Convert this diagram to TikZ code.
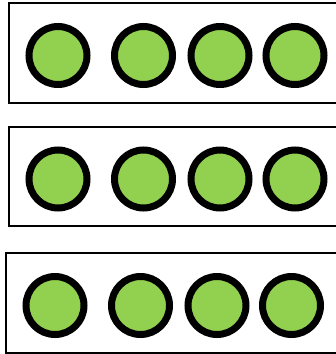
\documentclass[tikz,border=0pt]{standalone}
\definecolor{dotgreen}{HTML}{92D050}
\begin{document}
\begin{tikzpicture}[
    x=1pt, y=-1pt,
    tray/.style={draw=black, line width=2pt, fill=white},
    dot/.style={circle, draw=black, line width=7pt, fill=dotgreen,
                minimum size=58pt, inner sep=0pt}
]
    \useasboundingbox (0,0) rectangle (336,354);
    \clip (0,0) rectangle (336,354);

    % Reihen
    \draw[tray] (9,3) rectangle (350,103);
    \draw[tray] (9,126.5) rectangle (350,226);
    \draw[tray] (6,253) rectangle (350,353);

    % Reihe 1
    \node[dot] (a1) at (58,55.5) {};
    \node[dot] (a2) at (143.5,55.5) {};
    \node[dot] (a3) at (220,55.5) {};
    \node[dot] (a4) at (295,55.5) {};

    % Reihe 2
    \node[dot] (b1) at (58,179) {};
    \node[dot] (b2) at (143.5,179) {};
    \node[dot] (b3) at (220,179) {};
    \node[dot] (b4) at (295,179) {};

    % Reihe 3
    \node[dot] (c1) at (55,305.5) {};
    \node[dot] (c2) at (140.5,305.5) {};
    \node[dot] (c3) at (217,305.5) {};
    \node[dot] (c4) at (291.5,305.5) {};

\end{tikzpicture}
\end{document}
